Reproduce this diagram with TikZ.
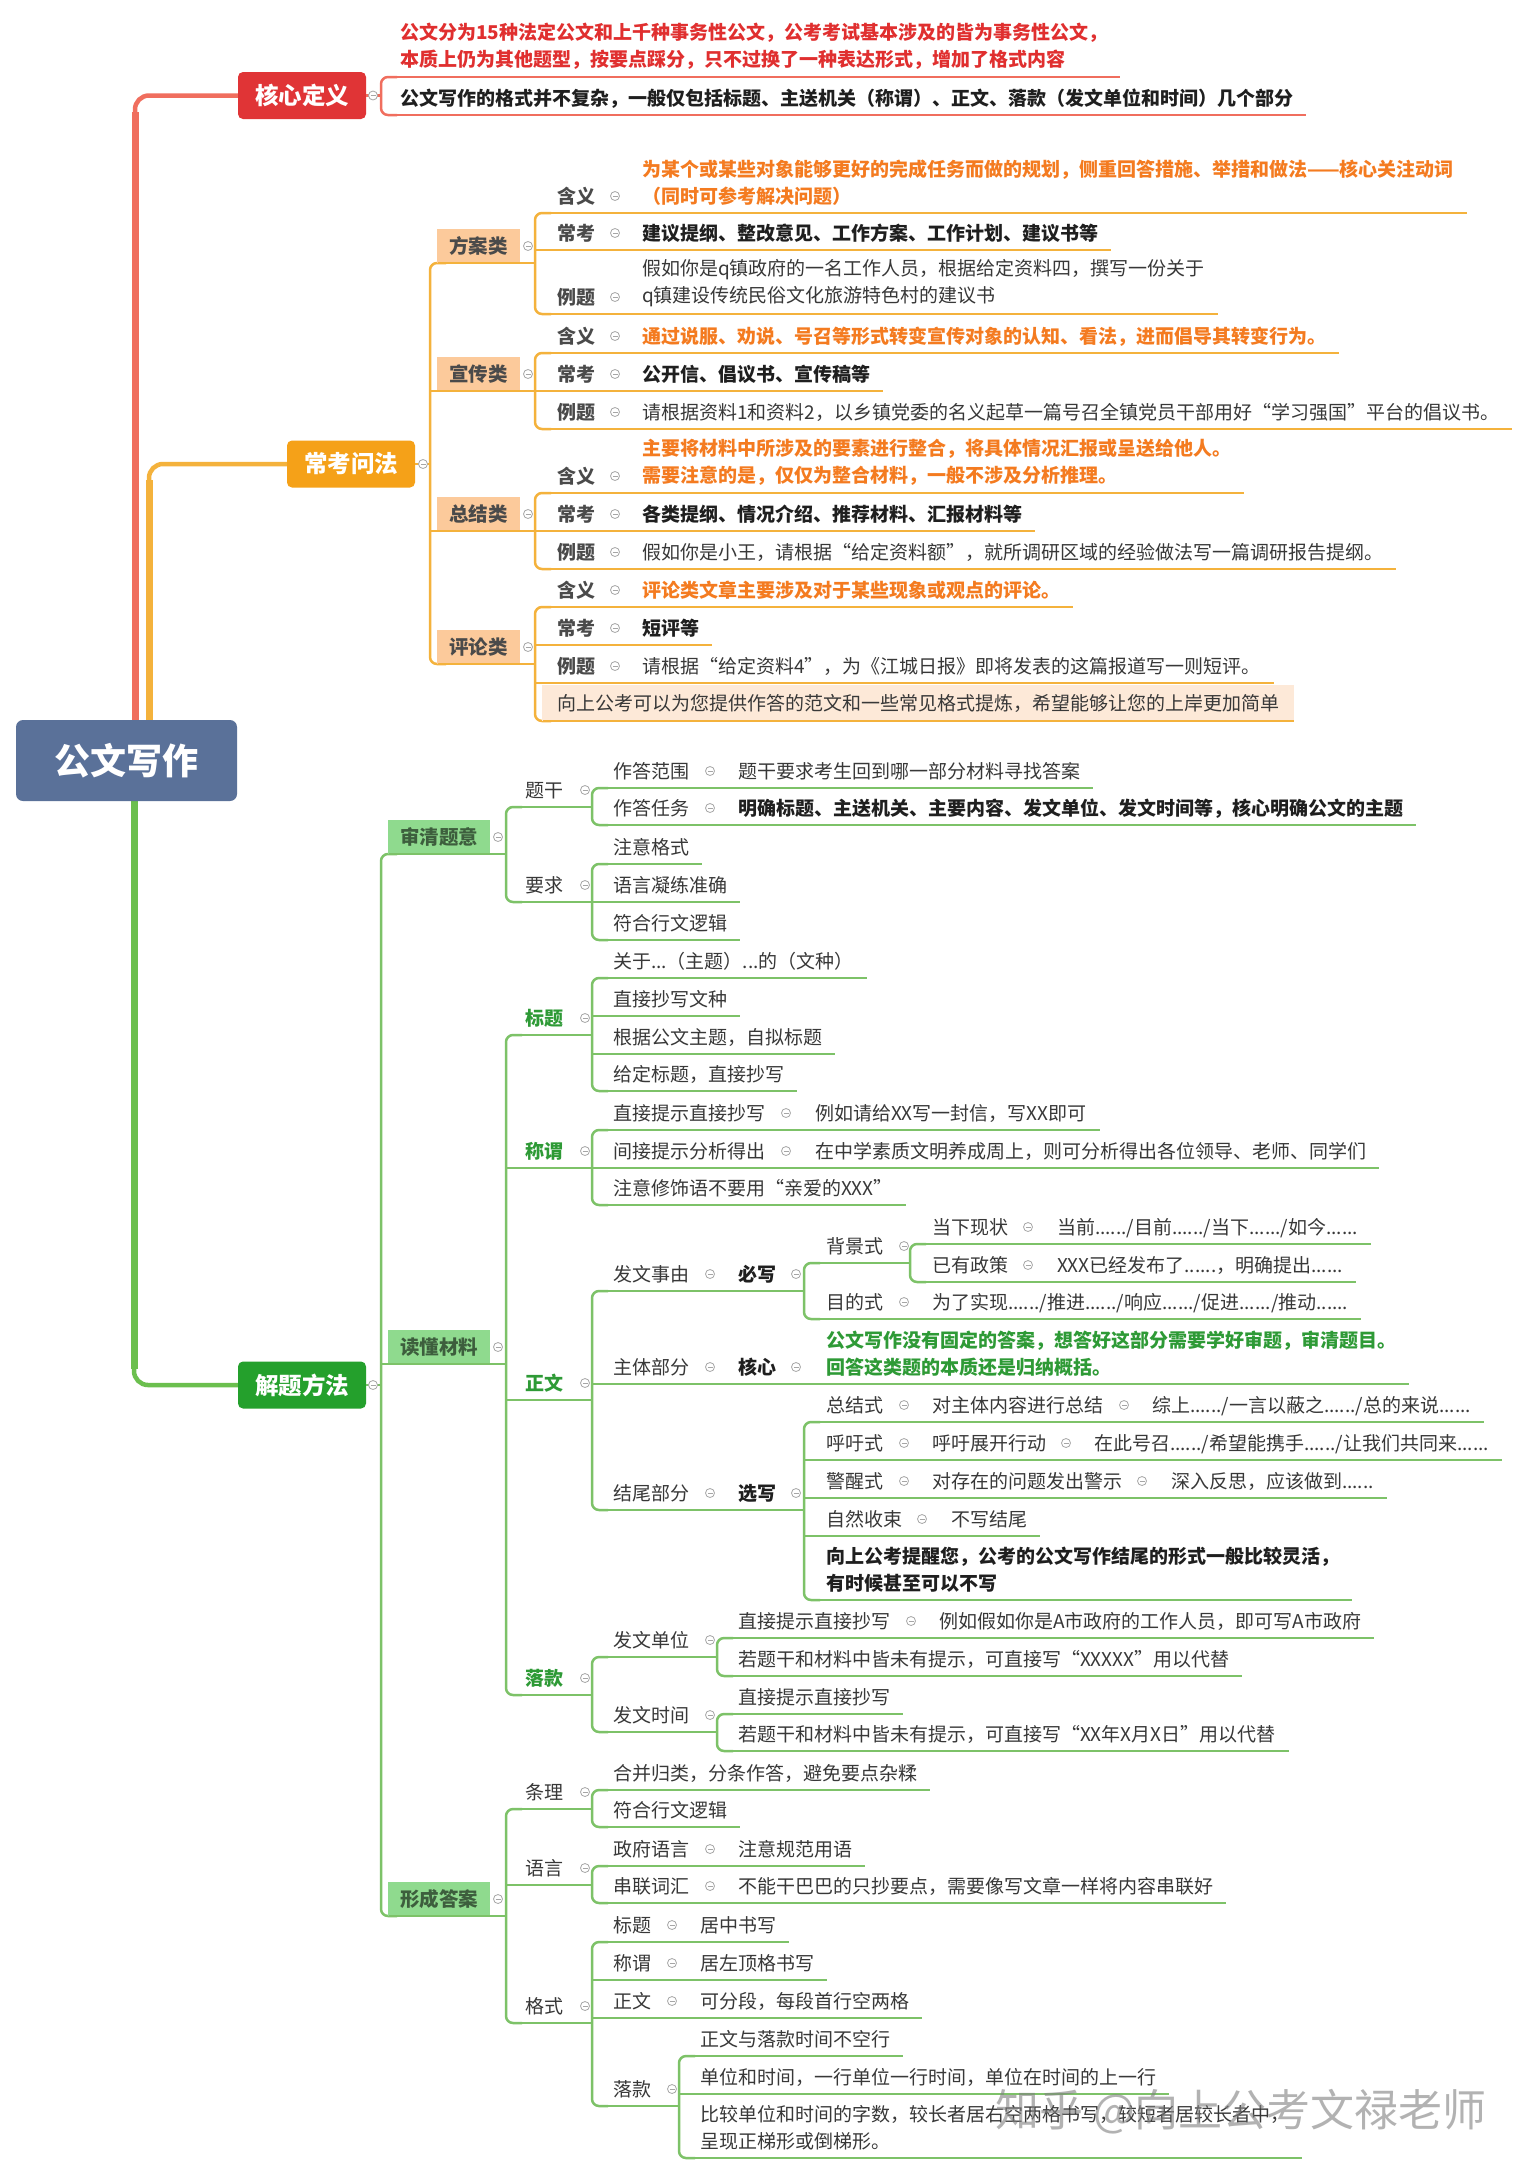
\documentclass[tikz,border=0pt]{standalone}
\usepackage{fontspec}
\setmainfont{Noto Sans CJK SC}
\pgfdeclarelayer{bg}
\pgfsetlayers{bg,main}
\definecolor{redbox}{HTML}{E03436}
\definecolor{redline}{HTML}{F06E5E}
\definecolor{redtxt}{HTML}{E02F2F}
\definecolor{orbox}{HTML}{F5A118}
\definecolor{orline}{HTML}{F4B23C}
\definecolor{ortxt}{HTML}{F47B20}
\definecolor{orfill}{HTML}{FCCA9B}
\definecolor{ornote}{HTML}{FDE9D8}
\definecolor{grbox}{HTML}{24A02C}
\definecolor{grline}{HTML}{7DC268}
\definecolor{grtrunk}{HTML}{6BBF4E}
\definecolor{grfill}{HTML}{8FDA8E}
\definecolor{grlab}{HTML}{3D5E3D}
\definecolor{grtxt}{HTML}{2E9A36}
\definecolor{rootc}{HTML}{5A7199}
\definecolor{txt}{HTML}{383838}
\definecolor{lbl}{HTML}{4A4A4A}
\definecolor{icon}{HTML}{A6A6A6}
\newcommand\UL[4]{\draw[#1] (#2,#3) -- (#4.east |- 0,#3) -- ++(13,0);}
\newcommand\VB[4]{\draw[#1,rounded corners=7pt] (#2+16,#3) -- (#2,#3) -- (#2,#4) -- (#2+16,#4);}
\newcommand\Cl[3]{\node[col] (#1) at (#2,#3) {};}
\begin{document}
\begin{tikzpicture}[x=1pt,y=-1pt,
  base/.style={inner sep=0pt, outer sep=0pt, font=\fontsize{19}{27}\selectfont, text=txt},
  t/.style={base, anchor=west, yshift=17pt, text height=16.5pt, text depth=2pt},
  tt/.style={base, anchor=west, yshift=30.5pt, align=left},
  b/.style={font=\fontsize{19}{27}\selectfont\bfseries},
  kb/.style={b, text=black!88},
  ot/.style={b, text=ortxt},
  gt/.style={b, text=grtxt},
  rt/.style={b, text=redtxt},
  lb4/.style={b, text=lbl},
  glab/.style={b, text=grtxt},
  colb/.style={circle, draw=icon, fill=white, line width=0.8pt, minimum size=9pt, inner sep=0pt,
    path picture={\draw[icon, line width=0.8pt] ([xshift=-2.5pt]path picture bounding box.center) -- ([xshift=2.5pt]path picture bounding box.center);}},
  col/.style={colb, yshift=17pt},
  rl/.style={redline, line width=2.5pt},
  ol/.style={orline, line width=2.5pt},
  gl/.style={grline, line width=2.5pt},
  l2box/.style={rounded corners=5pt, minimum width=128pt, minimum height=47pt, inner sep=0pt, text=white, font=\fontsize{23.5}{28}\selectfont\bfseries},
  obox/.style={fill=orfill, minimum width=83pt, minimum height=34pt, inner sep=0pt, text=lbl, font=\fontsize{19.5}{24}\selectfont\bfseries},
  gbox/.style={fill=grfill, minimum width=102pt, minimum height=34pt, inner sep=0pt, text=grlab, font=\fontsize{19.5}{24}\selectfont\bfseries},
  rootbox/.style={rounded corners=7pt, fill=rootc, minimum width=221pt, minimum height=81pt, inner sep=0pt, text=white, font=\fontsize{36}{40}\selectfont\bfseries},
  wmark/.style={font=\fontsize{44}{48}\selectfont, text=gray, opacity=0.6}
]
\useasboundingbox (0,0) rectangle (1532,2174);
% ---------- root and main branches ----------
\node[rootbox] (root) at (126.5,760.5) {公文写作};
\node[l2box, fill=redbox] (hx) at (302,95.5) {核心定义};
\node[l2box, fill=orbox] (ck) at (351,464) {常考问法};
\node[l2box, fill=grbox] (jt) at (302,1385) {解题方法};
\begin{pgfonlayer}{bg}
\fill[white] (0,0) rectangle (1532,2174);
\draw[redline, line width=4.5pt, rounded corners=14pt] (root.north -| 135,0) -- (135,95.5) -- (hx.west);
\draw[redline, line width=7pt] (root.north -| 135,0) -- (135,112);
\draw[orline, line width=4.5pt, rounded corners=14pt] (root.north -| 149,0) -- (149,464) -- (ck.west);
\draw[orline, line width=7pt] (root.north -| 149,0) -- (149,480);
\draw[grtrunk, line width=4.5pt, rounded corners=14pt] (root.south -| 134,0) -- (134,1385) -- (jt.west);
\draw[grtrunk, line width=7pt] (root.south -| 134,0) -- (134,1369);
\end{pgfonlayer}
% ---------- 核心定义 ----------
\draw[rl] (hx.east) -- (381,95.5);
\node[colb] (c0) at (373,95.5) {};
\VB{rl}{381}{77}{115}
\node[tt, rt] (hx1) at (400,77) {公文分为15种法定公文和上千种事务性公文，公考考试基本涉及的皆为事务性公文，\\本质上仍为其他题型，按要点踩分，只不过换了一种表达形式，增加了格式内容};
\UL{rl}{389}{77}{hx1}
\node[t, kb] (hx2) at (400,115) {公文写作的格式并不复杂，一般仅包括标题、主送机关（称谓）、正文、落款（发文单位和时间）几个部分};
\UL{rl}{389}{115}{hx2}
% ---------- 常考问法 ----------
\draw[ol] (ck.east) -- (430,464);
\node[colb] (c1) at (423,464) {};
\VB{ol}{430}{263}{664}
\node[obox] (fa) at (478.5,246) {方案类};
\node[obox] (xc) at (478.5,374) {宣传类};
\node[obox] (zj) at (478.5,514) {总结类};
\node[obox] (pl) at (478.5,647) {评论类};
\draw[ol] (438,263) -- (535,263);
\draw[ol] (430,391) -- (535,391);
\draw[ol] (430,531) -- (535,531);
\draw[ol] (438,664) -- (535,664);
\node[colb] (c2) at (528,246) {};
\node[colb] (c3) at (528,374) {};
\node[colb] (c4) at (528,514) {};
\node[colb] (c5) at (528,647) {};
% 方案类
\VB{ol}{535}{213}{314}
\node[t, lb4] (fa1) at (557,213) {含义}; \Cl{c6}{615}{213}
\node[tt, ot] (fa1c) at (642,213) {为某个或某些对象能够更好的完成任务而做的规划，侧重回答措施、举措和做法——核心关注动词\\（同时可参考解决问题）};
\UL{ol}{543}{213}{fa1c}
\node[t, lb4] (fa2) at (557,250) {常考}; \Cl{c7}{615}{250}
\node[t, kb] (fa2c) at (642,250) {建议提纲、整改意见、工作方案、工作计划、建议书等};
\UL{ol}{535}{250}{fa2c}
\node[t, lb4] (fa3) at (557,314) {例题}; \Cl{c8}{615}{314}
\node[tt] (fa3c) at (642,314) {假如你是q镇政府的一名工作人员，根据给定资料四，撰写一份关于\\q镇建设传统民俗文化旅游特色村的建议书};
\UL{ol}{543}{314}{fa3c}
% 宣传类
\VB{ol}{535}{353}{429}
\node[t, lb4] (xc1) at (557,353) {含义}; \Cl{c9}{615}{353}
\node[t, ot] (xc1c) at (642,353) {通过说服、劝说、号召等形式转变宣传对象的认知、看法，进而倡导其转变行为。};
\UL{ol}{543}{353}{xc1c}
\node[t, lb4] (xc2) at (557,391) {常考}; \Cl{c10}{615}{391}
\node[t, kb] (xc2c) at (642,391) {公开信、倡议书、宣传稿等};
\UL{ol}{535}{391}{xc2c}
\node[t, lb4] (xc3) at (557,429) {例题}; \Cl{c11}{615}{429}
\node[t] (xc3c) at (642,429) {请根据资料1和资料2，以乡镇党委的名义起草一篇号召全镇党员干部用好“学习强国”平台的倡议书。};
\UL{ol}{543}{429}{xc3c}
% 总结类
\VB{ol}{535}{493}{569}
\node[t, lb4] (zj1) at (557,493) {含义}; \Cl{c12}{615}{493}
\node[tt, ot] (zj1c) at (642,493) {主要将材料中所涉及的要素进行整合，将具体情况汇报或呈送给他人。\\需要注意的是，仅仅为整合材料，一般不涉及分析推理。};
\UL{ol}{543}{493}{zj1c}
\node[t, lb4] (zj2) at (557,531) {常考}; \Cl{c13}{615}{531}
\node[t, kb] (zj2c) at (642,531) {各类提纲、情况介绍、推荐材料、汇报材料等};
\UL{ol}{535}{531}{zj2c}
\node[t, lb4] (zj3) at (557,569) {例题}; \Cl{c14}{615}{569}
\node[t] (zj3c) at (642,569) {假如你是小王，请根据“给定资料额”，就所调研区域的经验做法写一篇调研报告提纲。};
\UL{ol}{543}{569}{zj3c}
% 评论类
\VB{ol}{535}{607}{721}
\node[t, lb4] (pl1) at (557,607) {含义}; \Cl{c15}{615}{607}
\node[t, ot] (pl1c) at (642,607) {评论类文章主要涉及对于某些现象或观点的评论。};
\UL{ol}{543}{607}{pl1c}
\node[t, lb4] (pl2) at (557,645) {常考}; \Cl{c16}{615}{645}
\node[t, kb] (pl2c) at (642,645) {短评等};
\UL{ol}{535}{645}{pl2c}
\node[t, lb4] (pl3) at (557,683) {例题}; \Cl{c17}{615}{683}
\node[t] (pl3c) at (642,683) {请根据“给定资料4”，为《江城日报》即将发表的这篇报道写一则短评。};
\UL{ol}{535}{683}{pl3c}
\node[base, anchor=south west, fill=ornote, inner xsep=15pt, minimum height=36pt, text height=16.5pt, text depth=2pt] (pnote) at (542,721) {向上公考可以为您提供作答的范文和一些常见格式提炼，希望能够让您的上岸更加简单};
\draw[ol] (543,721) -- (pnote.south east);
% ---------- 解题方法 ----------
\draw[gl] (jt.east) -- (381,1385);
\node[colb] (c18) at (373,1385) {};
\VB{gl}{381}{854}{1916}
\node[gbox] (sq) at (439,837) {审清题意};
\node[gbox] (dd) at (439,1347) {读懂材料};
\node[gbox] (xd) at (439,1899) {形成答案};
\draw[gl] (389,854) -- (506,854);
\draw[gl] (381,1364) -- (506,1364);
\draw[gl] (389,1916) -- (506,1916);
\node[colb] (c19) at (498,837) {};
\node[colb] (c20) at (498,1347) {};
\node[colb] (c21) at (498,1899) {};
% 审清题意
\VB{gl}{506}{807}{902}
\node[t] (tg) at (525,807) {题干}; \Cl{c22}{585}{807}
\draw[gl] (514,807) -- (592,807);
\VB{gl}{592}{788}{825}
\node[t] (tg1) at (613,788) {作答范围}; \Cl{c23}{710}{788}
\node[t] (tg1c) at (738,788) {题干要求考生回到哪一部分材料寻找答案};
\UL{gl}{600}{788}{tg1c}
\node[t] (tg2) at (613,825) {作答任务}; \Cl{c24}{710}{825}
\node[t, kb] (tg2c) at (738,825) {明确标题、主送机关、主要内容、发文单位、发文时间等，核心明确公文的主题};
\UL{gl}{600}{825}{tg2c}
\node[t] (yq) at (525,902) {要求}; \Cl{c25}{585}{902}
\draw[gl] (514,902) -- (592,902);
\VB{gl}{592}{864}{940}
\node[t] (yq1) at (613,864) {注意格式};
\UL{gl}{600}{864}{yq1}
\node[t] (yq2) at (613,902) {语言凝练准确};
\UL{gl}{592}{902}{yq2}
\node[t] (yq3) at (613,940) {符合行文逻辑};
\UL{gl}{600}{940}{yq3}
% 读懂材料
\VB{gl}{506}{1035}{1695}
\node[t, glab] (bt) at (525,1035) {标题}; \Cl{c26}{585}{1035}
\draw[gl] (514,1035) -- (592,1035);
\VB{gl}{592}{978}{1091}
\node[t] (bt1) at (613,978) {关于...（主题）...的（文种）};
\UL{gl}{600}{978}{bt1}
\node[t] (bt2) at (613,1016) {直接抄写文种};
\UL{gl}{592}{1016}{bt2}
\node[t] (bt3) at (613,1054) {根据公文主题，自拟标题};
\UL{gl}{592}{1054}{bt3}
\node[t] (bt4) at (613,1091) {给定标题，直接抄写};
\UL{gl}{600}{1091}{bt4}
\node[t, glab] (cw) at (525,1168) {称谓}; \Cl{c27}{585}{1168}
\draw[gl] (506,1168) -- (592,1168);
\VB{gl}{592}{1130}{1205}
\node[t] (cw1) at (613,1130) {直接提示直接抄写}; \Cl{c28}{786}{1130}
\node[t] (cw1c) at (815,1130) {例如请给XX写一封信，写XX即可};
\UL{gl}{600}{1130}{cw1c}
\node[t] (cw2) at (613,1168) {间接提示分析得出}; \Cl{c29}{786}{1168}
\node[t] (cw2c) at (815,1168) {在中学素质文明养成周上，则可分析得出各位领导、老师、同学们};
\UL{gl}{592}{1168}{cw2c}
\node[t] (cw3) at (613,1205) {注意修饰语不要用“亲爱的XXX”};
\UL{gl}{600}{1205}{cw3}
\node[t, glab] (zw) at (525,1400) {正文}; \Cl{c30}{585}{1400}
\draw[gl] (506,1400) -- (592,1400);
\VB{gl}{592}{1291}{1510}
\node[t] (zw1) at (613,1291) {发文事由}; \Cl{c31}{710}{1291}
\node[t, kb] (bx) at (738,1291) {必写}; \Cl{c32}{796}{1291}
\draw[gl] (600,1291) -- (804,1291);
\VB{gl}{804}{1263}{1319}
\node[t] (bj) at (826,1263) {背景式}; \Cl{c33}{904}{1263}
\draw[gl] (812,1263) -- (910,1263);
\VB{gl}{910}{1244}{1282}
\node[t] (bj1) at (932,1244) {当下现状}; \Cl{c34}{1028}{1244}
\node[t] (bj1c) at (1057,1244) {当前....../目前....../当下....../如今......};
\UL{gl}{918}{1244}{bj1c}
\node[t] (bj2) at (932,1282) {已有政策}; \Cl{c35}{1028}{1282}
\node[t] (bj2c) at (1057,1282) {XXX已经发布了......，明确提出......};
\UL{gl}{918}{1282}{bj2c}
\node[t] (md) at (826,1319) {目的式}; \Cl{c36}{904}{1319}
\node[t] (mdc) at (932,1319) {为了实现....../推进....../响应....../促进....../推动......};
\UL{gl}{812}{1319}{mdc}
\node[t] (zw2) at (613,1384) {主体部分}; \Cl{c37}{710}{1384}
\node[t, kb] (hxn) at (738,1384) {核心}; \Cl{c38}{796}{1384}
\node[tt, gt] (zw2c) at (826,1384) {公文写作没有固定的答案，想答好这部分需要学好审题，审清题目。\\回答这类题的本质还是归纳概括。};
\UL{gl}{592}{1384}{zw2c}
\node[t] (zw3) at (613,1510) {结尾部分}; \Cl{c39}{710}{1510}
\node[t, kb] (xx) at (738,1510) {选写}; \Cl{c40}{796}{1510}
\draw[gl] (600,1510) -- (804,1510);
\VB{gl}{804}{1422}{1600}
\node[t] (e1) at (826,1422) {总结式}; \Cl{c41}{904}{1422}
\node[t] (e1a) at (932,1422) {对主体内容进行总结}; \Cl{c42}{1124}{1422}
\node[t] (e1b) at (1152,1422) {综上....../一言以蔽之....../总的来说......};
\UL{gl}{812}{1422}{e1b}
\node[t] (e2) at (826,1460) {呼吁式}; \Cl{c43}{904}{1460}
\node[t] (e2a) at (932,1460) {呼吁展开行动}; \Cl{c44}{1066}{1460}
\node[t] (e2b) at (1094,1460) {在此号召....../希望能携手....../让我们共同来......};
\UL{gl}{804}{1460}{e2b}
\node[t] (e3) at (826,1498) {警醒式}; \Cl{c45}{904}{1498}
\node[t] (e3a) at (932,1498) {对存在的问题发出警示}; \Cl{c46}{1142}{1498}
\node[t] (e3b) at (1171,1498) {深入反思，应该做到......};
\UL{gl}{804}{1498}{e3b}
\node[t] (e4) at (826,1536) {自然收束}; \Cl{c47}{922}{1536}
\node[t] (e4a) at (951,1536) {不写结尾};
\UL{gl}{804}{1536}{e4a}
\node[tt, kb] (e5) at (826,1600) {向上公考提醒您，公考的公文写作结尾的形式一般比较灵活，\\有时候甚至可以不写};
\UL{gl}{812}{1600}{e5}
\node[t, glab] (lk) at (525,1695) {落款}; \Cl{c48}{585}{1695}
\draw[gl] (514,1695) -- (592,1695);
\VB{gl}{592}{1657}{1732}
\node[t] (dw) at (613,1657) {发文单位}; \Cl{c49}{710}{1657}
\draw[gl] (600,1657) -- (717,1657);
\VB{gl}{717}{1638}{1676}
\node[t] (dw1) at (738,1638) {直接提示直接抄写}; \Cl{c50}{911}{1638}
\node[t] (dw1c) at (939,1638) {例如假如你是A市政府的工作人员，即可写A市政府};
\UL{gl}{725}{1638}{dw1c}
\node[t] (dw2) at (738,1676) {若题干和材料中皆未有提示，可直接写“XXXXX”用以代替};
\UL{gl}{725}{1676}{dw2}
\node[t] (sj) at (613,1732) {发文时间}; \Cl{c51}{710}{1732}
\draw[gl] (600,1732) -- (717,1732);
\VB{gl}{717}{1714}{1751}
\node[t] (sj1) at (738,1714) {直接提示直接抄写};
\UL{gl}{725}{1714}{sj1}
\node[t] (sj2) at (738,1751) {若题干和材料中皆未有提示，可直接写“XX年X月X日”用以代替};
\UL{gl}{725}{1751}{sj2}
% 形成答案
\VB{gl}{506}{1809}{2023}
\node[t] (tl) at (525,1809) {条理}; \Cl{c52}{585}{1809}
\draw[gl] (514,1809) -- (592,1809);
\VB{gl}{592}{1790}{1827}
\node[t] (tl1) at (613,1790) {合并归类，分条作答，避免要点杂糅};
\UL{gl}{600}{1790}{tl1}
\node[t] (tl2) at (613,1827) {符合行文逻辑};
\UL{gl}{600}{1827}{tl2}
\node[t] (yy) at (525,1885) {语言}; \Cl{c53}{585}{1885}
\draw[gl] (506,1885) -- (592,1885);
\VB{gl}{592}{1866}{1903}
\node[t] (yy1) at (613,1866) {政府语言}; \Cl{c54}{710}{1866}
\node[t] (yy1c) at (738,1866) {注意规范用语};
\UL{gl}{600}{1866}{yy1c}
\node[t] (yy2) at (613,1903) {串联词汇}; \Cl{c55}{710}{1903}
\node[t] (yy2c) at (738,1903) {不能干巴巴的只抄要点，需要像写文章一样将内容串联好};
\UL{gl}{600}{1903}{yy2c}
\node[t] (gs) at (525,2023) {格式}; \Cl{c56}{585}{2023}
\draw[gl] (514,2023) -- (592,2023);
\VB{gl}{592}{1942}{2106}
\node[t] (gs1) at (613,1942) {标题}; \Cl{c57}{672}{1942}
\node[t] (gs1c) at (700,1942) {居中书写};
\UL{gl}{600}{1942}{gs1c}
\node[t] (gs2) at (613,1980) {称谓}; \Cl{c58}{672}{1980}
\node[t] (gs2c) at (700,1980) {居左顶格书写};
\UL{gl}{592}{1980}{gs2c}
\node[t] (gs3) at (613,2018) {正文}; \Cl{c59}{672}{2018}
\node[t] (gs3c) at (700,2018) {可分段，每段首行空两格};
\UL{gl}{592}{2018}{gs3c}
\node[t] (gs4) at (613,2106) {落款}; \Cl{c60}{672}{2106}
\draw[gl] (600,2106) -- (679,2106);
\VB{gl}{679}{2056}{2158}
\node[t] (gs41) at (700,2056) {正文与落款时间不空行};
\UL{gl}{687}{2056}{gs41}
\node[t] (gs42) at (700,2094) {单位和时间，一行单位一行时间，单位在时间的上一行};
\UL{gl}{679}{2094}{gs42}
\node[tt] (gs43) at (700,2158) {比较单位和时间的字数，较长者居右空两格书写，较短者居较长者中，\\呈现正梯形或倒梯形。};
\UL{gl}{687}{2158}{gs43}
% watermark
\node[wmark] (wm) at (1241,2112) {知乎 @向上公考文禄老师};
\end{tikzpicture}
\end{document}
